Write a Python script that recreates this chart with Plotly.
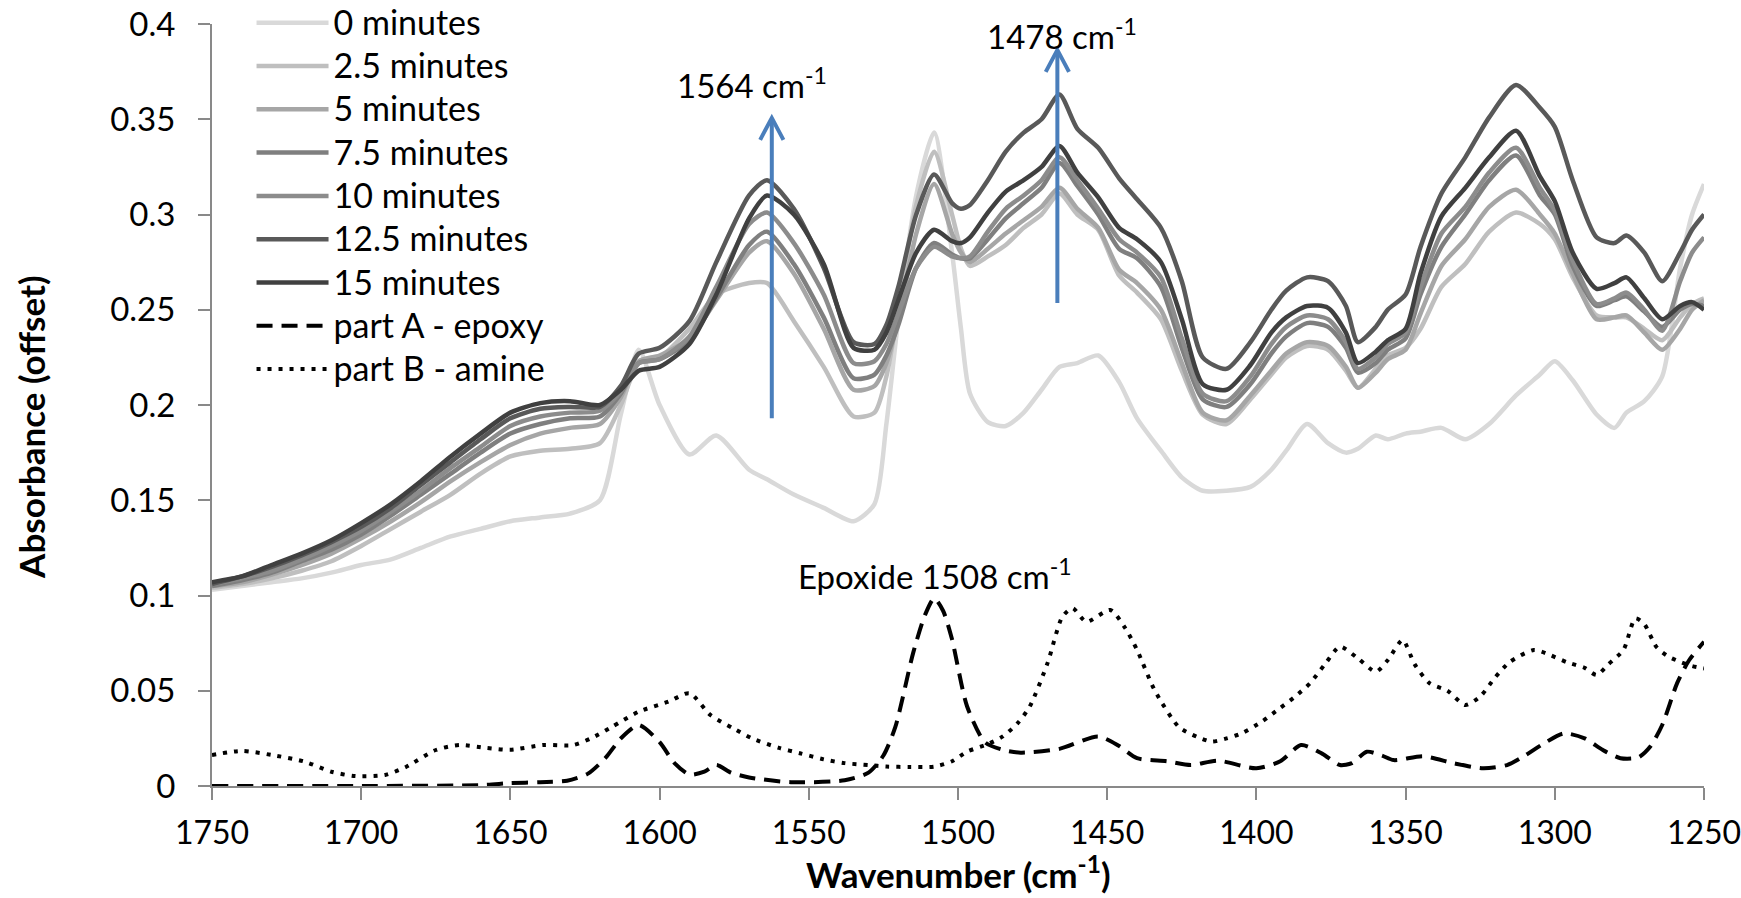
import plotly.graph_objects as go

# ---------------- data ----------------
wavenumber = [1750, 1740, 1730, 1720, 1710, 1700, 1690, 1680, 1670, 1660, 1650, 1640, 1630, 1620, 1613,
              1607, 1600, 1590, 1581, 1570, 1564, 1555, 1545, 1535, 1528, 1524, 1520, 1514, 1508, 1502,
              1499, 1496, 1490, 1484, 1478, 1472, 1466, 1460, 1453, 1446, 1440, 1432, 1425, 1418, 1410,
              1402, 1395, 1390, 1383, 1376, 1370, 1366, 1360, 1356, 1350, 1345, 1338, 1330, 1322, 1313,
              1305, 1300, 1294, 1286, 1280, 1276, 1270, 1264, 1258, 1254, 1250]

min_0 = [.103, .105, .107, .109, .112, .116, .119, .125, .131, .135, .139, .141, .143, .150, .195,
         .229, .200, .174, .184, .166, .161, .153, .146, .139, .148, .190, .245, .310, .343, .280,
         .240, .206, .191, .189, .196, .208, .220, .222, .226, .212, .193, .176, .162, .155, .155,
         .157, .166, .176, .190, .180, .175, .177, .184, .182, .185, .186, .188, .182, .190, .205,
         .216, .223, .213, .195, .188, .196, .202, .215, .272, .300, .316]

min_2_5 = [.104, .106, .109, .113, .118, .126, .135, .144, .153, .164, .173, .176, .177, .180, .200,
           .222, .225, .240, .258, .264, .264, .244, .220, .194, .196, .215, .250, .305, .333, .300,
           .282, .273, .278, .284, .293, .300, .311, .300, .292, .268, .259, .245, .218, .195, .190,
           .203, .216, .225, .231, .229, .218, .209, .219, .226, .230, .240, .262, .274, .291, .301,
           .295, .287, .267, .247, .246, .246, .240, .234, .246, .253, .256]

min_5 = [.105, .107, .111, .116, .122, .130, .139, .149, .160, .170, .179, .185, .188, .190, .204,
         .223, .226, .235, .255, .280, .286, .269, .240, .208, .210, .222, .245, .290, .316, .290,
         .280, .275, .282, .290, .297, .304, .314, .303, .293, .271, .264, .250, .222, .196, .192,
         .205, .218, .227, .233, .231, .220, .209, .217, .224, .229, .248, .273, .287, .304, .313,
         .300, .290, .269, .245, .246, .247, .238, .229, .240, .250, .255]

min_7_5 = [.105, .108, .112, .118, .124, .132, .142, .153, .164, .175, .185, .190, .193, .194, .206,
           .222, .224, .234, .256, .284, .291, .274, .246, .214, .216, .226, .242, .272, .285, .279,
           .277, .277, .287, .298, .306, .314, .327, .315, .300, .282, .277, .262, .230, .203, .199,
           .211, .227, .236, .243, .241, .230, .217, .222, .229, .235, .258, .283, .300, .318, .331,
           .310, .300, .273, .252, .255, .257, .249, .241, .250, .253, .252]

min_10 = [.106, .109, .113, .119, .126, .134, .144, .155, .167, .178, .189, .194, .196, .197, .207,
          .222, .224, .236, .262, .295, .301, .285, .258, .222, .223, .232, .248, .272, .283, .278,
          .277, .278, .291, .303, .310, .318, .330, .318, .303, .287, .280, .267, .235, .206, .202,
          .215, .232, .241, .247, .245, .233, .219, .225, .232, .238, .262, .290, .304, .322, .335,
          .314, .302, .276, .253, .256, .259, .250, .239, .265, .280, .288]

min_12_5 = [.106, .110, .115, .121, .128, .136, .146, .158, .170, .182, .193, .198, .199, .199, .210,
            .227, .230, .244, .275, .310, .318, .303, .272, .233, .232, .242, .262, .300, .321, .306,
            .303, .305, .318, .333, .343, .350, .363, .345, .335, .319, .308, .293, .265, .225, .219,
            .233, .250, .260, .267, .265, .252, .233, .241, .250, .258, .283, .311, .330, .351, .368,
            .356, .346, .318, .288, .285, .289, .280, .265, .280, .292, .300]

min_15 = [.107, .110, .116, .122, .129, .138, .148, .160, .173, .185, .196, .201, .202, .200, .208,
          .218, .220, .232, .258, .298, .310, .300, .274, .230, .229, .238, .255, .280, .292, .286,
          .285, .288, .301, .312, .318, .325, .336, .322, .309, .293, .287, .275, .245, .211, .208,
          .221, .238, .246, .252, .251, .238, .222, .228, .234, .240, .269, .299, .314, .330, .344,
          .320, .307, .280, .261, .264, .267, .256, .245, .252, .254, .250]

partA_wn = [1750, 1700, 1660, 1650, 1640, 1631, 1624, 1618, 1613, 1607, 1600, 1595, 1590, 1585, 1581,
            1576, 1570, 1556, 1538, 1530, 1525, 1521, 1515, 1511, 1508, 1505, 1502, 1497, 1491, 1485,
            1479, 1466, 1453, 1446, 1440, 1430, 1422, 1413, 1400, 1392, 1385, 1378, 1372, 1368, 1363,
            1358, 1354, 1344, 1334, 1324, 1316, 1310, 1304, 1297, 1290, 1284, 1278, 1272, 1268, 1264,
            1259, 1255, 1250]
partA_abs = [0, 0, .0005, .0015, .002, .0028, .0065, .015, .025, .032, .023, .012, .006, .0075, .011,
             .007, .0045, .002, .003, .007, .016, .031, .070, .090, .0985, .092, .077, .042, .023, .019,
             .0175, .0195, .026, .021, .0146, .013, .011, .0133, .0093, .013, .0215, .017, .011, .012, .018,
             .016, .0136, .0156, .012, .0093, .011, .016, .022, .0276, .025, .019, .0146, .015, .0207, .032,
             .054, .066, .0757]

partB_wn = [1750, 1740, 1730, 1719, 1710, 1702, 1692, 1685, 1675, 1667, 1658, 1650, 1639, 1629, 1623,
            1616, 1607, 1597, 1590, 1583, 1575, 1569, 1560, 1553, 1545, 1538, 1530, 1524, 1516, 1508,
            1502, 1497, 1490, 1485, 1480, 1476, 1470, 1465, 1461.6, 1457, 1449, 1444, 1440, 1434, 1426,
            1420, 1415, 1410, 1405, 1398, 1392, 1387, 1382, 1377, 1372, 1366, 1360, 1356, 1351, 1347,
            1342, 1336, 1330, 1325, 1320, 1315, 1307, 1302, 1296, 1290, 1286, 1282, 1277, 1273, 1270,
            1266, 1262, 1258, 1254, 1250]
partB_abs = [.0163, .0184, .0163, .0128, .0075, .0052, .0058, .010, .0189, .0215, .020, .019, .0215, .0215, .025,
             .031, .039, .0443, .0487, .0373, .030, .025, .020, .0172, .014, .012, .011, .0102, .010, .0102,
             .013, .018, .022, .026, .033, .0416, .0645, .0889, .0933, .0862, .0924, .083, .0714, .050, .031,
             .0259, .0233, .025, .0276, .034, .041, .047, .054, .064, .0731, .067, .060, .066, .0766, .064,
             .054, .050, .0425, .047, .057, .0652, .0714, .069, .065, .062, .0583, .064, .0714, .088, .085,
             .0731, .068, .0652, .063, .0617]

series_names = ["0 minutes", "2.5 minutes", "5 minutes", "7.5 minutes", "10 minutes", "12.5 minutes", "15 minutes"]
series_values = [min_0, min_2_5, min_5, min_7_5, min_10, min_12_5, min_15]
series_colors = ["#d9d9d9", "#bfbfbf", "#a6a6a6", "#7f7f7f", "#8c8c8c", "#595959", "#404040"]

# arrows: (wavenumber, tail absorbance, tip absorbance)
arrow_1564 = [1562.4, 0.193, 0.3507]
arrow_1478 = [1466.7, 0.2535, 0.3864]

x_ticks = [1750, 1700, 1650, 1600, 1550, 1500, 1450, 1400, 1350, 1300, 1250]
y_ticks = [0, 0.05, 0.1, 0.15, 0.2, 0.25, 0.3, 0.35, 0.4]
y_ticktext = ["0", "0.05", "0.1", "0.15", "0.2", "0.25", "0.3", "0.35", "0.4"]

FONT = "Lato"


def legend_label(txt):
    return f'<span style="font-size:34px">{txt}</span>'


fig = go.Figure()
for name, vals, col in zip(series_names, series_values, series_colors):
    assert len(vals) == len(wavenumber), name
    fig.add_trace(go.Scatter(x=wavenumber, y=vals, mode="lines", name=legend_label(name),
                             line=dict(color=col, width=4.5, shape="spline", smoothing=0.7)))

fig.add_trace(go.Scatter(x=partA_wn, y=partA_abs, mode="lines", name=legend_label("part A - epoxy"),
                         line=dict(color="black", width=4, dash="16px,9px", shape="spline", smoothing=0.7)))
fig.add_trace(go.Scatter(x=partB_wn, y=partB_abs, mode="lines", name=legend_label("part B - amine"),
                         line=dict(color="black", width=4, dash="4px,7px", shape="spline", smoothing=0.7)))

ARROW_COL = "#4a7ebb"
shapes = []
for wn, y0, y1 in [arrow_1564, arrow_1478]:
    shapes.append(dict(type="line", xref="x", yref="y", x0=wn, x1=wn, y0=y0, y1=y1 - 0.002,
                       line=dict(color=ARROW_COL, width=4)))
    shapes.append(dict(type="path", xref="x", yref="y",
                       path=f"M {wn + 3.9},{y1 - 0.0115} L {wn},{y1} L {wn - 3.9},{y1 - 0.0115}",
                       line=dict(color=ARROW_COL, width=4)))

annotations = [
    dict(text="1564 cm<sup>-1</sup>", x=1569.0, y=0.3688, xref="x", yref="y", showarrow=False,
         xanchor="center", yanchor="middle", font=dict(family=FONT, size=33, color="black")),
    dict(text="1478 cm<sup>-1</sup>", x=1465.0, y=0.3950, xref="x", yref="y", showarrow=False,
         xanchor="center", yanchor="middle", font=dict(family=FONT, size=33, color="black")),
    dict(text="Epoxide 1508 cm<sup>-1</sup>", x=1507.7, y=0.1113, xref="x", yref="y", showarrow=False,
         xanchor="center", yanchor="middle", font=dict(family=FONT, size=33, color="black")),
    dict(text="<b>Absorbance (offset)</b>", x=-0.1213, y=0.47, xref="paper", yref="paper", showarrow=False,
         textangle=-90, xanchor="center", yanchor="middle", font=dict(family=FONT, size=35, color="black")),
    dict(text="<b>Wavenumber (cm<sup>-1</sup>)</b>", x=0.5, y=-0.146, xref="paper", yref="paper",
         showarrow=False, xanchor="center", yanchor="bottom", font=dict(family=FONT, size=35, color="black")),
]

AX = "#898989"
fig.update_layout(
    width=1741, height=898,
    margin=dict(l=212, r=37, t=24, b=112, autoexpand=False),
    paper_bgcolor="white", plot_bgcolor="white",
    font=dict(family=FONT, size=33, color="black"),
    showlegend=True,
    legend=dict(x=0.0265, y=1.0367, xanchor="left", yanchor="top", bgcolor="rgba(0,0,0,0)",
                font=dict(family=FONT, size=31, color="black"), itemwidth=72, tracegroupgap=0),
    xaxis=dict(range=[1750, 1250], tickvals=x_ticks, ticks="outside", ticklen=12, tickwidth=2,
               tickcolor=AX, showline=True, linecolor=AX, linewidth=2, showgrid=False, zeroline=False,
               ticklabelstandoff=6, ticklabeloverflow="allow",
               tickfont=dict(family=FONT, size=32, color="black")),
    yaxis=dict(range=[0, 0.4], tickvals=y_ticks, ticktext=y_ticktext,
               ticks="outside", ticklen=12, tickwidth=2, tickcolor=AX, showline=True, linecolor=AX,
               linewidth=2, showgrid=False, zeroline=False, ticklabelstandoff=16,
               tickfont=dict(family=FONT, size=33, color="black")),
    shapes=shapes,
    annotations=annotations,
)

fig.write_html("out.html")
